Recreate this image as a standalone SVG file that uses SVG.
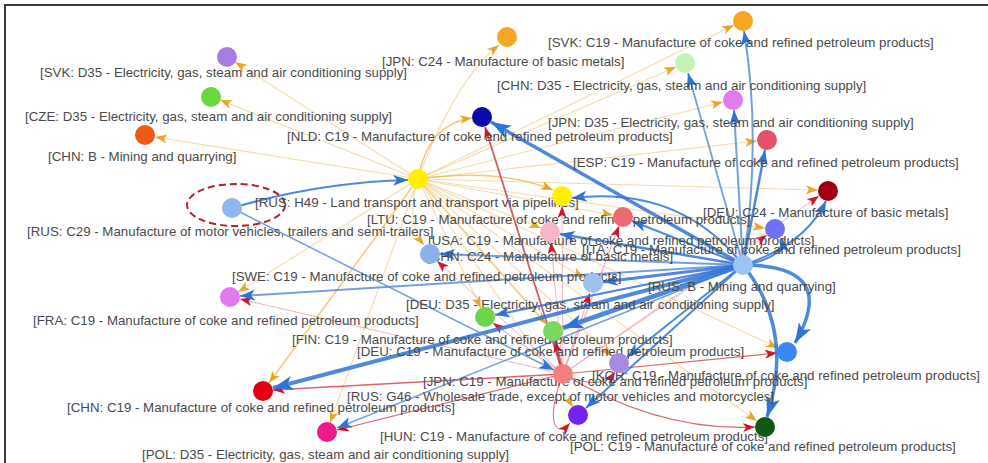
<svg xmlns="http://www.w3.org/2000/svg" width="988" height="463" viewBox="0 0 988 463">
<style>
.lbl{font-family:"Liberation Sans",Arial,sans-serif;font-size:13.3px;fill:#4a4a4a}
.eb{fill:none;stroke:#2f74d6;stroke-opacity:0.85}
.er{fill:none;stroke:#d23040;stroke-opacity:0.75}
.eo{fill:none;stroke:#f2cf8e;stroke-width:1.1;stroke-opacity:0.75}
.n{stroke-width:0}
</style>
<defs>
<marker id="ao" markerUnits="userSpaceOnUse" markerWidth="13" markerHeight="10" refX="12" refY="4.5" orient="auto"><path d="M0,0 L12,4.5 L0,9 L3,4.5 z" fill="#e9a628"/></marker>
<marker id="ar" markerUnits="userSpaceOnUse" markerWidth="13" markerHeight="10" refX="12" refY="4.5" orient="auto"><path d="M0,0 L12,4.5 L0,9 L3,4.5 z" fill="#d0142a"/></marker>
<marker id="ab" markerUnits="userSpaceOnUse" markerWidth="16" markerHeight="12" refX="15" refY="5.5" orient="auto"><path d="M0,0 L15,5.5 L0,11 L4,5.5 z" fill="#2c74d8"/></marker>
<marker id="abL" markerUnits="userSpaceOnUse" markerWidth="21" markerHeight="15" refX="20" refY="7" orient="auto"><path d="M0,0 L20,7 L0,14 L5,7 z" fill="#2c74d8"/></marker>
</defs>
<rect x="0" y="0" width="988" height="463" fill="#ffffff"/>
<path d="M5,463 L5,5 L988,5" fill="none" stroke="#3a3a3a" stroke-width="2"/>
<g id="edges">
<g id="orange-edges" marker-end="url(#ao)">
<path class="eo" d="M418,179 L235,62"/>
<path class="eo" d="M418,179 L220,100"/>
<path class="eo" d="M418,179 L155,137"/>
<path class="eo" d="M418,179 Q455,80 499,45"/>
<path class="eo" d="M418,179 L734,25"/>
<path class="eo" d="M418,179 L676,67"/>
<path class="eo" d="M418,179 L723,102"/>
<path class="eo" style="stroke:#f0b545;stroke-width:1.5" d="M418,179 Q428,124 472,118"/>
<path class="eo" d="M418,179 L757,141"/>
<path class="eo" d="M418,179 L818,190"/>
<path class="eo" style="stroke:#f0b545;stroke-width:1.5" d="M418,179 Q500,168 553,190"/>
<path class="eo" d="M418,179 L613,215"/>
<path class="eo" d="M418,179 L541,228"/>
<path class="eo" d="M418,179 Q405,222 424,245"/>
<path class="eo" d="M418,179 L765,228"/>
<path class="eo" d="M418,179 L584,278"/>
<path class="eo" d="M418,179 L238,292"/>
<path class="eo" d="M418,179 L481,308"/>
<path class="eo" style="stroke:#ecc060;stroke-width:1.8" d="M418,179 L546,324"/>
<path class="eo" style="stroke:#f0b545;stroke-width:1.4" d="M418,179 L269,383"/>
<path class="eo" d="M418,179 L330,423"/>
<path class="eo" d="M418,179 L778,348"/>
<path class="eo" d="M418,179 L612,356"/>
<path class="eo" d="M418,179 L573,407"/>
<path class="eo" d="M418,179 L757,421"/>
</g>
<g id="red-edges" marker-end="url(#ar)">
<path class="er" style="stroke-width:1.8;stroke:#c02838" d="M563,374 L485,127"/>
<path class="er" style="stroke-width:1;stroke:#e89aa8" d="M563,374 L562,206"/>
<path class="er" style="stroke-width:1.2;stroke:#e89aa8" d="M563,374 L619,226"/>
<path class="er" style="stroke-width:1;stroke:#e89aa8" d="M563,374 L551,242"/>
<path class="er" style="stroke-width:1;stroke:#e89aa8" d="M563,374 L437,261"/>
<path class="er" style="stroke-width:1.2;stroke:#e89aa8" d="M563,374 L590,293"/>
<path class="er" style="stroke-width:1.2;stroke:#e89aa8" d="M563,374 L493,323"/>
<path class="er" style="stroke-width:3" d="M563,374 L555,341"/>
<path class="er" style="stroke-width:1" d="M563,374 Q600,392 615,372"/>
<path class="er" style="stroke-width:1;stroke:#e89aa8" d="M563,374 L767,235"/>
<path class="er" style="stroke-width:1;stroke:#e89aa8" d="M563,374 L819,196"/>
<path class="er" style="stroke-width:1.2" d="M563,374 L777,353"/>
<path class="er" style="stroke-width:1.2" d="M563,374 Q660,432 755,427"/>
<path class="er" style="stroke-width:1" d="M563,374 C545,420 555,440 570,423"/>
<path class="er" style="stroke-width:1.5" d="M563,374 L273,390"/>
<path class="er" style="stroke-width:1.2" d="M563,374 L337,430"/>
<path class="er" style="stroke-width:1;stroke:#e89aa8" d="M563,374 L240,299"/>
</g>
<g id="blue-edges">
<path class="eb" style="stroke-width:3.5" marker-end="url(#abL)" d="M743,265 L491,122"/>
<path class="eb" style="stroke-width:2;stroke:#5b8fd6" marker-end="url(#ab)" d="M743,265 Q762,140 744,31"/>
<path class="eb" style="stroke-width:1.8;stroke:#5b8fd6" marker-end="url(#ab)" d="M743,265 L688,73"/>
<path class="eb" style="stroke-width:2;stroke:#5b8fd6" marker-end="url(#ab)" d="M743,265 L734,110"/>
<path class="eb" style="stroke-width:2.5" marker-end="url(#ab)" d="M743,265 L765,150"/>
<path class="eb" style="stroke-width:2" marker-end="url(#ab)" d="M743,265 Q680,185 572,198"/>
<path class="eb" style="stroke-width:2.5" marker-end="url(#ab)" d="M743,265 L560,234"/>
<path class="eb" style="stroke-width:2;stroke:#5b8fd6" marker-end="url(#ab)" d="M743,265 L440,254"/>
<path class="eb" style="stroke-width:2" marker-end="url(#ab)" d="M743,265 L632,221"/>
<path class="eb" style="stroke-width:2" marker-end="url(#ab)" d="M743,265 Q805,245 826,201"/>
<path class="eb" style="stroke-width:2" marker-end="url(#ab)" d="M743,265 Q785,258 782,238"/>
<path class="eb" style="stroke-width:2;stroke:#5b8fd6" marker-end="url(#ab)" d="M743,265 L240,296"/>
<path class="eb" style="stroke-width:4" marker-end="url(#abL)" d="M743,265 L273,388"/>
<path class="eb" style="stroke-width:1.5;stroke:#5b8fd6" marker-end="url(#ab)" d="M743,265 L337,428"/>
<path class="eb" style="stroke-width:3.5" marker-end="url(#abL)" d="M743,265 Q840,265 795,343"/>
<path class="eb" style="stroke-width:3.5" marker-end="url(#abL)" d="M743,265 Q795,330 767,417"/>
<path class="eb" style="stroke-width:2" marker-end="url(#ab)" d="M743,265 L586,408"/>
<path class="eb" style="stroke-width:3" marker-end="url(#ab)" d="M743,265 L603,282"/>
<path class="eb" style="stroke-width:2" marker-end="url(#ab)" d="M743,265 L495,315"/>
<path class="eb" style="stroke-width:5" marker-end="url(#abL)" d="M743,265 L563,328"/>
<path class="eb" style="stroke-width:2" marker-end="url(#ab)" d="M743,265 L627,357"/>
<path class="eb" style="stroke-width:2" marker-end="url(#ab)" d="M232,208 Q320,182 408,180"/>
<path class="eb" style="stroke-width:1.5;stroke:#5b8fd6" marker-end="url(#ab)" d="M232,208 L554,370"/>
</g>
</g>
<ellipse cx="236" cy="205" rx="49" ry="21" fill="none" stroke="#b8202a" stroke-width="2" stroke-dasharray="7 4"/>
<g id="n-svk-d35"><circle class="n" cx="227" cy="57" r="10" fill="#a67de0"/><text class="lbl" x="40" y="77">[SVK: D35 - Electricity, gas, steam and air conditioning supply]</text></g>
<g id="n-cze-d35"><circle class="n" cx="211" cy="97" r="10" fill="#6ad640"/><text class="lbl" x="25" y="121">[CZE: D35 - Electricity, gas, steam and air conditioning supply]</text></g>
<g id="n-chn-b"><circle class="n" cx="145" cy="135" r="10" fill="#f05a12"/><text class="lbl" x="48" y="161">[CHN: B - Mining and quarrying]</text></g>
<g id="n-jpn-c24"><circle class="n" cx="507" cy="37" r="10" fill="#f5a623"/><text class="lbl" x="382" y="66">[JPN: C24 - Manufacture of basic metals]</text></g>
<g id="n-svk-c19"><circle class="n" cx="743" cy="21" r="10" fill="#f5a623"/><text class="lbl" x="548" y="47">[SVK: C19 - Manufacture of coke and refined petroleum products]</text></g>
<g id="n-chn-d35"><circle class="n" cx="685" cy="63" r="10" fill="#c5f2b5"/><text class="lbl" x="497" y="90">[CHN: D35 - Electricity, gas, steam and air conditioning supply]</text></g>
<g id="n-jpn-d35"><circle class="n" cx="733" cy="100" r="10" fill="#e47aef"/><text class="lbl" x="548" y="127">[JPN: D35 - Electricity, gas, steam and air conditioning supply]</text></g>
<g id="n-nld-c19"><circle class="n" cx="482" cy="117" r="10" fill="#0a0aa8"/><text class="lbl" x="287" y="141">[NLD: C19 - Manufacture of coke and refined petroleum products]</text></g>
<g id="n-esp-c19"><circle class="n" cx="767" cy="140" r="10" fill="#e84f6a"/><text class="lbl" x="573" y="167">[ESP: C19 - Manufacture of coke and refined petroleum products]</text></g>
<g id="n-rus-h49"><circle class="n" cx="418" cy="179" r="10" fill="#fff000"/><text class="lbl" x="255" y="207">[RUS: H49 - Land transport and transport via pipelines]</text></g>
<g id="n-rus-c29"><circle class="n" cx="232" cy="208" r="10" fill="#8cb8f0"/><text class="lbl" x="27" y="236">[RUS: C29 - Manufacture of motor vehicles, trailers and semi-trailers]</text></g>
<g id="n-ltu-c19"><circle class="n" cx="562" cy="196" r="10" fill="#fff000"/><text class="lbl" x="367" y="224">[LTU: C19 - Manufacture of coke and refined petroleum products]</text></g>
<g id="n-deu-c24"><circle class="n" cx="828" cy="191" r="10" fill="#a00012"/><text class="lbl" x="703" y="217">[DEU: C24 - Manufacture of basic metals]</text></g>
<g id="n-usa-c19"><circle class="n" cx="623" cy="217" r="10" fill="#ee6a72"/><text class="lbl" x="428" y="245">[USA: C19 - Manufacture of coke and refined petroleum products]</text></g>
<g id="n-ita-c19"><circle class="n" cx="775" cy="229" r="10" fill="#7070f2"/><text class="lbl" x="582" y="254">[ITA: C19 - Manufacture of coke and refined petroleum products]</text></g>
<g id="n-chn-c24"><circle class="n" cx="550" cy="232" r="10" fill="#f6b8c8"/><text class="lbl" x="427" y="261">[CHN: C24 - Manufacture of basic metals]</text></g>
<g id="n-swe-c19"><circle class="n" cx="430" cy="254" r="10" fill="#8cb0ea"/><text class="lbl" x="232" y="281">[SWE: C19 - Manufacture of coke and refined petroleum products]</text></g>
<g id="n-rus-b"><circle class="n" cx="743" cy="265" r="10" fill="#9cc4f2"/><text class="lbl" x="648" y="291">[RUS: B - Mining and quarrying]</text></g>
<g id="n-deu-d35"><circle class="n" cx="593" cy="283" r="10" fill="#9cc2f2"/><text class="lbl" x="406" y="309">[DEU: D35 - Electricity, gas, steam and air conditioning supply]</text></g>
<g id="n-fra-c19"><circle class="n" cx="230" cy="297" r="10" fill="#e478ef"/><text class="lbl" x="33" y="325">[FRA: C19 - Manufacture of coke and refined petroleum products]</text></g>
<g id="n-fin-c19"><circle class="n" cx="485" cy="317" r="10" fill="#6ad64a"/><text class="lbl" x="292" y="344">[FIN: C19 - Manufacture of coke and refined petroleum products]</text></g>
<g id="n-deu-c19"><circle class="n" cx="553" cy="331" r="10" fill="#78d860"/><text class="lbl" x="357" y="356">[DEU: C19 - Manufacture of coke and refined petroleum products]</text></g>
<g id="n-kor-c19"><circle class="n" cx="787" cy="352" r="10" fill="#3a88f0"/><text class="lbl" x="592" y="380">[KOR: C19 - Manufacture of coke and refined petroleum products]</text></g>
<g id="n-jpn-c19"><circle class="n" cx="619" cy="363" r="10" fill="#a98ae0"/><text class="lbl" x="423" y="386">[JPN: C19 - Manufacture of coke and refined petroleum products]</text></g>
<g id="n-rus-g46"><circle class="n" cx="563" cy="374" r="10" fill="#f28080"/><text class="lbl" x="347" y="401">[RUS: G46 - Wholesale trade, except of motor vehicles and motorcycles]</text></g>
<g id="n-chn-c19"><circle class="n" cx="263" cy="391" r="10" fill="#e00012"/><text class="lbl" x="67" y="412">[CHN: C19 - Manufacture of coke and refined petroleum products]</text></g>
<g id="n-hun-c19"><circle class="n" cx="578" cy="415" r="10" fill="#7322ef"/><text class="lbl" x="380" y="441">[HUN: C19 - Manufacture of coke and refined petroleum products]</text></g>
<g id="n-pol-c19"><circle class="n" cx="765" cy="427" r="10" fill="#0e5a12"/><text class="lbl" x="570" y="451">[POL: C19 - Manufacture of coke and refined petroleum products]</text></g>
<g id="n-pol-d35"><circle class="n" cx="327" cy="432" r="10" fill="#ee1a8a"/><text class="lbl" x="142" y="459">[POL: D35 - Electricity, gas, steam and air conditioning supply]</text></g>
</svg>
